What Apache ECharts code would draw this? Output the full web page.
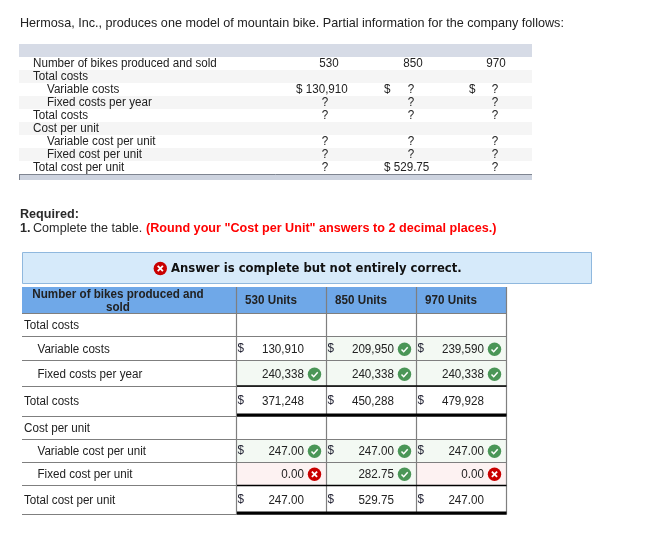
<!DOCTYPE html>
<html lang="en">

<head>
    <meta charset="UTF-8">
    <title>Hermosa, Inc.</title>
    <script src="https://cdn.jsdelivr.net/npm/echarts/dist/echarts.min.js"></script>
    <style>
        html,
        body {
            margin: 0;
            padding: 0;
            background-color: #fff;
        }

        #pic {
            width: 660px;
            height: 545px;
        }
    </style>
</head>

<body>
    <div id="pic"></div>

    <script>
        // problem table
        const problemLabels = ['Number of bikes produced and sold', 'Total costs', 'Variable costs', 'Fixed costs per year', 'Total costs', 'Cost per unit', 'Variable cost per unit', 'Fixed cost per unit', 'Total cost per unit'];
        const problem530 = ['530', '', '$ 130,910', '?', '?', '', '?', '?', '?'];
        const problem850 = ['850', '', '?', '?', '?', '', '?', '?', '$ 529.75'];
        const problem970 = ['970', '', '?', '?', '?', '', '?', '?', '?'];

        // answer table
        const answerHeader = ['Number of bikes produced and', 'sold'];
        const answerUnits = ['530 Units', '850 Units', '970 Units'];
        const answerLabels = ['Total costs', 'Variable costs', 'Fixed costs per year', 'Total costs', 'Cost per unit', 'Variable cost per unit', 'Fixed cost per unit', 'Total cost per unit'];
        const answer530 = ['', '130,910', '240,338', '371,248', '', '247.00', '0.00', '247.00'];
        const answer850 = ['', '209,950', '240,338', '450,288', '', '247.00', '282.75', '529.75'];
        const answer970 = ['', '239,590', '240,338', '479,928', '', '247.00', '0.00', '247.00'];
        const dollarRows = [false, true, false, true, false, true, false, true];
        // 1 = correct, -1 = wrong, 0 = no mark
        const marks530 = [0, 0, 1, 0, 0, 1, -1, 0];
        const marks850 = [0, 1, 1, 0, 0, 1, 1, 0];
        const marks970 = [0, 1, 1, 0, 0, 1, -1, 0];

        const ARIAL = '"Liberation Sans", Arial, sans-serif';
        const g = [];

        function text(str, x, y, opt) {
            opt = opt || {};
            g.push({
                type: 'text', x: x, y: y, z: 5,
                // the source screenshot is a little narrower than it is tall
                scaleX: 0.97,
                style: {
                    text: str,
                    font: (opt.bold ? 'bold ' : '') + (opt.size || 12) + 'px ' + (opt.family || ARIAL),
                    fill: opt.color || '#222',
                    align: opt.align || 'left',
                    verticalAlign: 'middle'
                }
            });
        }

        function rect(x, y, w, h, fill, stroke) {
            g.push({
                type: 'rect', z: stroke ? 2 : 1,
                shape: { x: x, y: y, width: w, height: h },
                style: { fill: fill, stroke: stroke || null, lineWidth: 1 }
            });
        }

        function line(x1, y1, x2, y2, color, width) {
            g.push({
                type: 'line', z: width > 1.4 ? 4 : 3,
                shape: { x1: x1, y1: y1, x2: x2, y2: y2 },
                style: { stroke: color, lineWidth: width || 1 }
            });
        }

        function icon(cx, cy, ok) {
            g.push({
                type: 'circle', z: 6,
                shape: { cx: cx, cy: cy, r: 6.7 },
                style: { fill: ok ? '#4a9657' : '#c90000' }
            });
            if (ok) {
                g.push({
                    type: 'polyline', z: 7,
                    shape: { points: [[cx - 3, cy + 0.2], [cx - 0.8, cy + 2.4], [cx + 3.2, cy - 2]] },
                    style: { stroke: '#fff', lineWidth: 1.5, fill: null }
                });
            } else {
                line(cx - 2.6, cy - 2.6, cx + 2.6, cy + 2.6, '#fff', 1.8);
                line(cx - 2.6, cy + 2.6, cx + 2.6, cy - 2.6, '#fff', 1.8);
                g[g.length - 1].z = 7;
                g[g.length - 2].z = 7;
            }
        }

        // intro
        text('Hermosa, Inc., produces one model of mountain bike. Partial information for the company follows:', 20, 23, { size: 13 });

        // problem table
        rect(19, 44, 513, 13, '#d6dbe6');
        problemLabels.forEach(function (label, i) {
            const top = 57 + i * 13;
            if (i % 2 === 1) rect(19, top, 513, 13, '#f5f5f5');
            const indent = [2, 3, 6, 7].indexOf(i) >= 0 ? 47 : 33;
            const cy = top + 7;
            text(label, indent, cy);
            [[problem530, 329, 325, 296], [problem850, 413, 411, 384], [problem970, 496, 495, 469]].forEach(function (c) {
                const v = c[0][i];
                if (!v) return;
                if (v === '?') {
                    text('?', c[2], cy, { align: 'center' });
                    if (i === 2 && c[0] !== problem530) text('$', c[3], cy);
                } else if (v.charAt(0) === '$') {
                    text(v, c[3], cy);
                } else {
                    text(v, c[1], cy, { align: 'center' });
                }
            });
        });
        rect(19, 174, 513, 6, '#cdd3df');
        line(19, 174.5, 532, 174.5, '#7f8591', 1);
        line(19.5, 174, 19.5, 180, '#7f8591', 1);

        // required
        text('Required:', 20, 214, { size: 13, bold: true, color: '#2a2a2a' });
        text('1.', 20, 228, { size: 13, bold: true, color: '#2a2a2a' });
        text(' Complete the table.', 29.5, 228, { size: 13, color: '#2a2a2a' });
        text('(Round your "Cost per Unit" answers to 2 decimal places.)', 146, 228, { size: 13, bold: true, color: '#f00' });

        // banner
        rect(22.5, 252.5, 569, 31, '#d6eafa', '#8fb8de');
        icon(160.3, 268.5, false);
        text('Answer is complete but not entirely correct.', 171, 269, { bold: true, color: '#111', family: '"DejaVu Sans", Verdana, sans-serif' });

        // answer table
        const colX = [236.5, 326.5, 416.5, 506.5];
        const rowY = [313, 336.5, 360.5, 386, 416, 439, 462, 485, 514];
        const textY = [325.5, 349.5, 374.5, 401.5, 428.5, 451.5, 474.5, 500.5];
        const iconY = [325, 349, 374, 401, 428, 451, 474, 500];
        const indented = [1, 2, 5, 6];
        const columns = [[answer530, marks530], [answer850, marks850], [answer970, marks970]];

        rect(22, 287, 484.5, 26, '#6fa8e8');
        text(answerHeader[0], 118, 294.5, { bold: true, align: 'center' });
        text(answerHeader[1], 118, 307.5, { bold: true, align: 'center' });
        answerUnits.forEach(function (u, c) {
            text(u, colX[c] + 34.5, 300.5, { bold: true, align: 'center' });
        });

        answerLabels.forEach(function (label, r) {
            text(label, indented.indexOf(r) >= 0 ? 37.5 : 24, textY[r]);
            columns.forEach(function (col, c) {
                const mark = col[1][r];
                const x = colX[c];
                if (mark) rect(x, rowY[r], 90, rowY[r + 1] - rowY[r], mark > 0 ? '#f3f9f3' : '#fdf2f2');
                if (col[0][r]) text(col[0][r], x + 67.5, textY[r], { align: 'right' });
                if (dollarRows[r]) {
                    text('$', x + 1, textY[r] - 0.5, { color: '#223' });
                }
                if (mark) icon(x + 78, iconY[r] + 0.3, mark > 0);
            });
        });

        // grid lines
        rowY.forEach(function (y) {
            line(22, Math.floor(y) + 0.5, 506.5, Math.floor(y) + 0.5, '#7f7f7f', 1.2);
        });
        colX.forEach(function (x) {
            line(x, 287, x, 514.5, '#7f7f7f', 1.2);
        });
        // total rules on the number columns
        line(237, 386, 506.5, 386, '#000', 1.5);
        line(237, 415, 506.5, 415, '#000', 3);
        line(237, 485.5, 506.5, 485.5, '#000', 1.5);
        line(237, 513, 506.5, 513, '#000', 3);

        const myChart = echarts.init(document.getElementById('pic'), null, { renderer: 'canvas' });
        myChart.setOption({
            animation: false,
            backgroundColor: '#fff',
            graphic: { elements: g }
        });
    </script>
</body>

</html>
